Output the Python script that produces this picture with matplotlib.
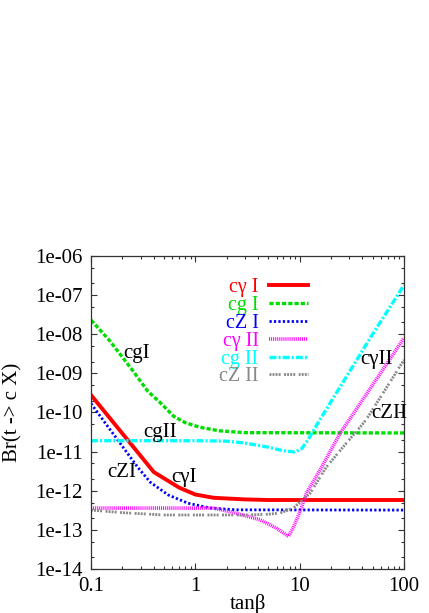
import numpy as np
import matplotlib
matplotlib.use("Agg")
import matplotlib.pyplot as plt
from matplotlib.ticker import LogLocator, NullFormatter, FixedLocator

plt.rcParams["font.family"] = ["Liberation Serif", "DejaVu Serif"]
plt.rcParams["lines.scale_dashes"] = False

# tan(beta) grid points and branching ratios
x_cgam1 = [0.1, 0.4, 0.7, 1.0, 1.5, 3.0, 5.0, 100]
y_cgam1 = [2.8e-10, 3.0e-12, 1.2e-12, 8.0e-13, 6.6e-13, 6.0e-13, 5.8e-13, 5.8e-13]

x_cg1 = [0.1, 0.15, 0.25, 0.35, 0.47, 0.62, 0.8, 1.1, 1.7, 3.0, 100]
y_cg1 = [2.3e-8, 7.0e-9, 1.2e-9, 3.5e-10, 1.7e-10, 8.0e-11, 5.5e-11, 4.2e-11,
         3.4e-11, 3.05e-11, 3.0e-11]

x_cz1 = [0.1, 0.13, 0.18, 0.28, 0.37, 0.55, 0.85, 1.4, 2.5, 100]
y_cz1 = [1.7e-10, 6.5e-11, 2.0e-11, 4.0e-12, 1.65e-12, 7.8e-13, 4.8e-13,
         3.6e-13, 3.25e-13, 3.2e-13]

x_cgam2 = [0.1, 1.5, 2.3, 4.2, 6.0, 7.8, 8.7, 10, 11.7, 15.7, 24.5, 30, 100]
y_cgam2 = [3.6e-13, 3.6e-13, 2.8e-13, 1.8e-13, 1.1e-13, 6.8e-14, 1.15e-13,
           2.8e-13, 9.0e-13, 3.4e-12, 3.0e-11, 6.6e-11, 8.0e-9]

x_cg2 = [0.1, 1.0, 2.0, 3.0, 5.0, 7.0, 9.0, 10.5, 12, 14, 16, 30, 50, 100]
y_cg2 = [1.9e-11, 1.9e-11, 1.85e-11, 1.65e-11, 1.3e-11, 1.05e-11, 9.8e-12,
         1.2e-11, 2.0e-11, 4.0e-11, 7.2e-11, 1.1e-9, 1.0e-8, 1.8e-7]

x_cz2 = [0.1, 0.2, 0.5, 3.0, 5.0, 6.5, 8.7, 12.6, 18, 26, 41, 45, 100]
y_cz2 = [3.2e-13, 2.75e-13, 2.4e-13, 2.4e-13, 2.5e-13, 2.7e-13, 3.6e-13,
         8.7e-13, 4.0e-12, 1.3e-11, 5.4e-11, 7.6e-11, 2.2e-9]

labels = ["c\u03b3 I", "cg I", "cZ I", "c\u03b3 II", "cg II", "cZ II"]
colors = ["#ff0000", "#00dd00", "#0000ff", "#ff00ff", "#00ffff", "#888888"]

fig = plt.figure(figsize=(4.29, 6.13), dpi=100)
ax = fig.add_axes([0.2121, 0.0718, 0.7296, 0.5106])

ax.plot(x_cgam1, y_cgam1, color=colors[0], lw=2.8, label=labels[0])
ax.plot(x_cg1, y_cg1, color=colors[1], lw=2.4, ls=(0, (3, 1.5)), label=labels[1])
ax.plot(x_cz1, y_cz1, color=colors[2], lw=2.0, ls=(0, (1.6, 1.6)), label=labels[2])
ax.plot(x_cgam2, y_cgam2, color=colors[3], lw=2.6, ls=(0, (0.7, 0.7)), label=labels[3])
ax.plot(x_cg2, y_cg2, color=colors[4], lw=2.4, ls=(0, (5, 1.5, 1.5, 1.5)), label=labels[4])
ax.plot(x_cz2, y_cz2, color=colors[5], lw=2.0,
        ls=(0, (1.4, 0.8, 1.4, 0.8, 1.4, 0.8, 1.4, 2.5)), label=labels[5])

ax.set_xscale("log")
ax.set_yscale("log")
ax.set_xlim(0.1, 100)
ax.set_ylim(1e-14, 1e-6)

ax.yaxis.set_major_locator(FixedLocator([10.0 ** k for k in range(-14, -5)]))
ax.set_yticklabels(["1e-%02d" % k for k in range(14, 5, -1)])
ax.yaxis.set_minor_locator(LogLocator(base=10, subs=(2.0, 5.0), numticks=20))
ax.yaxis.set_minor_formatter(NullFormatter())
ax.set_xticks([0.1, 1, 10, 100])
ax.set_xticklabels(["0.1", "1", "10", "100"])
ax.xaxis.set_minor_locator(LogLocator(base=10, subs=np.arange(2, 10), numticks=20))
ax.xaxis.set_minor_formatter(NullFormatter())

ax.tick_params(which="both", direction="in", top=True, right=True,
               labelsize=15, width=0.8, color="#333333")
ax.tick_params(which="major", length=4.5, pad=6)
ax.tick_params(which="minor", length=2.5)
for s in ax.spines.values():
    s.set_linewidth(0.9)
    s.set_color("#333333")

ax.set_xlabel("tan\u03b2", fontsize=15, labelpad=-2)
ax.set_ylabel("Br(t -> c X)", fontsize=15, labelpad=9)

leg = ax.legend(loc="upper right", bbox_to_anchor=(0.693, 0.93), frameon=False,
                markerfirst=False, fontsize=14.5, labelspacing=-0.06,
                handlelength=1.95, handletextpad=0.5, borderpad=0,
                borderaxespad=0, labelcolor="linecolor")

ax.text(0.276, 3.3e-9, "cgI", fontsize=15, ha="center", va="center")
ax.text(0.46, 3.0e-11, "cgII", fontsize=15, ha="center", va="center")
ax.text(0.198, 3.0e-12, "cZI", fontsize=15, ha="center", va="center")
ax.text(0.78, 2.2e-12, "c\u03b3I", fontsize=15, ha="center", va="center")
ax.text(55, 2.2e-9, "c\u03b3II", fontsize=15, ha="center", va="center")
ax.text(72, 9.5e-11, "cZII", fontsize=15, ha="center", va="center")

fig.savefig("out.png", dpi=100)
